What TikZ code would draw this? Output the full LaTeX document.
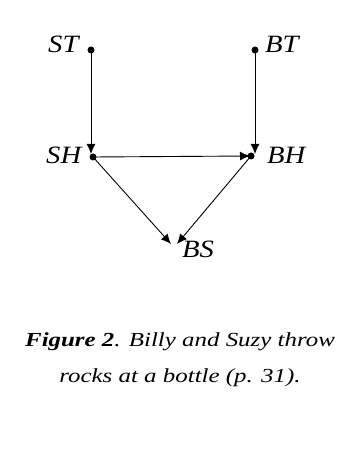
\documentclass[tikz,border=0pt]{standalone}
\usepackage{fontspec}
\setmainfont{Liberation Serif}
\newfontfamily\capfont[FakeStretch=1.25]{Liberation Serif}
\newfontfamily\lblfont[FakeStretch=1.15]{Liberation Serif}
\usetikzlibrary{arrows.meta}
\begin{document}
\begin{tikzpicture}[x=1bp,y=-1bp,
  lbl/.style={font=\lblfont\fontsize{25}{28}\selectfont\itshape, inner sep=0pt, anchor=base west},
  arr/.style={-{Latex[length=10bp,width=9bp]}, line width=0.9bp},
  dotmark/.style={circle, fill=black, inner sep=0pt, minimum size=7bp},
  captext/.style={font=\capfont\fontsize{20}{24}\selectfont\itshape, inner sep=0pt, anchor=base}]
\useasboundingbox (0,0) rectangle (345,459);
\coordinate (ST) at (91,50);
\coordinate (BT) at (255,50);
\coordinate (SH) at (93,157);
\coordinate (BH) at (251,156);
\coordinate (BS) at (174,244);
\coordinate (SHin) at (91,154);
\coordinate (BHin) at (255,154);
\node[dotmark] (STd) at (ST) {};
\node[dotmark] (BTd) at (BT) {};
\node[dotmark] (SHd) at (SH) {};
\node[dotmark] (BHd) at (BH) {};
\node[lbl] (STl) at (48,53) {ST};
\node[lbl] (BTl) at (265,53) {BT};
\node[lbl] (SHl) at (46,164) {SH};
\node[lbl] (BHl) at (267,164) {BH};
\node[lbl] (BSl) at (182,257) {BS};
\draw[arr] (ST) -- (SHin);
\draw[arr] (BT) -- (BHin);
\draw[arr] (SH) -- ([xshift=-1bp]BH);
\draw[arr] (SH) -- ([xshift=-3bp]BS);
\draw[arr] (BH) -- ([xshift=3bp]BS);
\node[captext] (c1) at (180,346) {{\bfseries Figure 2}. Billy and Suzy throw};
\node[captext] (c2) at (180,382) {rocks at a bottle (p. 31).};
\end{tikzpicture}
\end{document}
